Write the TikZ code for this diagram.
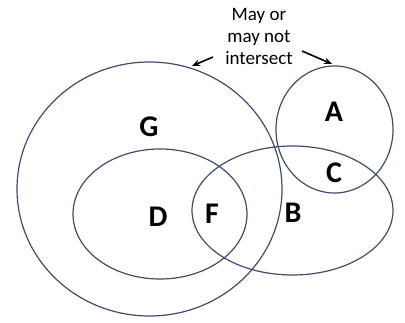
\documentclass[tikz,border=0pt]{standalone}
\usepackage{fontspec}
\setmainfont{Carlito}
\usetikzlibrary{arrows.meta}
\definecolor{setline}{HTML}{3E4C6E}
\begin{document}
\begin{tikzpicture}[x=1pt,y=-1pt,
  setshape/.style={draw=setline,line width=1.2pt},
  setlabel/.style={font=\fontsize{30}{30}\selectfont\bfseries,inner sep=0pt},
  note/.style={font=\fontsize{19}{22}\selectfont,align=center,inner sep=0pt},
  pointer/.style={-{Stealth[length=8pt,width=6.5pt]},line width=1.6pt,black}]
\useasboundingbox (0,0) rectangle (405,323);
\draw[setshape] (149.5,189) ellipse [x radius=132.5,y radius=127];
\draw[setshape] (160,214) ellipse [x radius=87,y radius=65];
\draw[setshape] (292.5,210.5) ellipse [x radius=100.5,y radius=64.5];
\draw[setshape] (334.5,129.5) ellipse [x radius=58.5,y radius=63.5];
\node[setlabel] (G) at (149,127) {G};
\node[setlabel] (D) at (158,217) {D};
\node[setlabel] (F) at (212,214) {F};
\node[setlabel] (B) at (293,213) {B};
\node[setlabel] (A) at (334,112) {A};
\node[setlabel] (C) at (334,173) {C};
\node[note] (N) at (259,36) {May or\\may not\\intersect};
\coordinate (lt) at (213,57);
\coordinate (lh) at (192,66);
\coordinate (rt) at (302,51);
\coordinate (rh) at (332,64);
\draw[pointer] (lt) -- (lh);
\draw[pointer] (rt) -- (rh);
\end{tikzpicture}
\end{document}
